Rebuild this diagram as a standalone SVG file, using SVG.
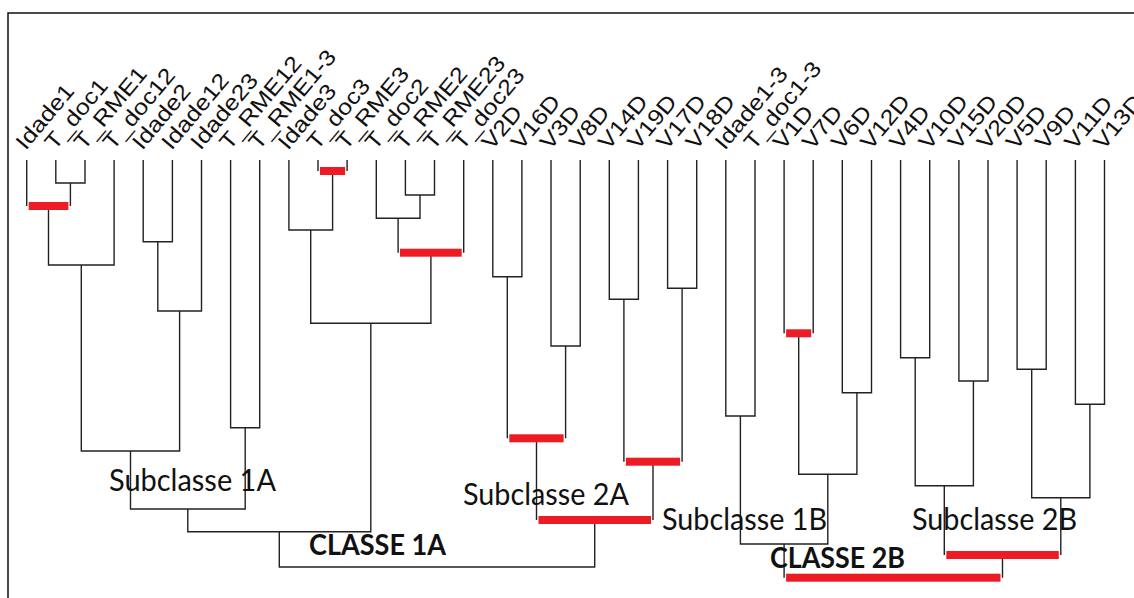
<svg xmlns="http://www.w3.org/2000/svg" width="1134" height="598" viewBox="0 0 1134 598">
<style>
.bg{fill:#ffffff}
.frame{fill:none;stroke:#111;stroke-width:1.5}
.ln{fill:none;stroke:#222;stroke-width:1.4}
.red{fill:#ed1c24}
.lab{font-family:"Liberation Sans",Arial,sans-serif;font-size:22px;fill:#111}
.sub{font-family:Lato,"Open Sans",sans-serif;font-size:30px;fill:#111}
.cls{font-family:Lato,"Open Sans",sans-serif;font-size:28px;font-weight:bold;fill:#111}
</style>
<rect class="bg" x="0" y="0" width="1134" height="598"/>
<path class="frame" d="M8,598V13H1134"/>

<g id="leaves">
<g id="leaf-Idade1"><text class="lab" transform="translate(25.7,151) rotate(-50) scale(1.15,1)">Idade1</text></g>
<g id="leaf-T_doc1"><text class="lab" transform="translate(54.8,151) rotate(-50) scale(1.15,1)">T_doc1</text></g>
<g id="leaf-T_RME1"><text class="lab" transform="translate(84,151) rotate(-50) scale(1.15,1)">T_RME1</text></g>
<g id="leaf-T_doc12"><text class="lab" transform="translate(113.1,151) rotate(-50) scale(1.15,1)">T_doc12</text></g>
<g id="leaf-Idade2"><text class="lab" transform="translate(142.2,151) rotate(-50) scale(1.15,1)">Idade2</text></g>
<g id="leaf-Idade12"><text class="lab" transform="translate(171.4,151) rotate(-50) scale(1.15,1)">Idade12</text></g>
<g id="leaf-Idade23"><text class="lab" transform="translate(200.5,151) rotate(-50) scale(1.15,1)">Idade23</text></g>
<g id="leaf-T_RME12"><text class="lab" transform="translate(229.6,151) rotate(-50) scale(1.15,1)">T_RME12</text></g>
<g id="leaf-T_RME1-3"><text class="lab" transform="translate(258.7,151) rotate(-50) scale(1.15,1)">T_RME1-3</text></g>
<g id="leaf-Idade3"><text class="lab" transform="translate(287.9,151) rotate(-50) scale(1.15,1)">Idade3</text></g>
<g id="leaf-T_doc3"><text class="lab" transform="translate(317,151) rotate(-50) scale(1.15,1)">T_doc3</text></g>
<g id="leaf-T_RME3"><text class="lab" transform="translate(346.1,151) rotate(-50) scale(1.15,1)">T_RME3</text></g>
<g id="leaf-T_doc2"><text class="lab" transform="translate(375.3,151) rotate(-50) scale(1.15,1)">T_doc2</text></g>
<g id="leaf-T_RME2"><text class="lab" transform="translate(404.4,151) rotate(-50) scale(1.15,1)">T_RME2</text></g>
<g id="leaf-T_RME23"><text class="lab" transform="translate(433.5,151) rotate(-50) scale(1.15,1)">T_RME23</text></g>
<g id="leaf-T_doc23"><text class="lab" transform="translate(462.6,151) rotate(-50) scale(1.15,1)">T_doc23</text></g>
<g id="leaf-V2D"><text class="lab" transform="translate(491.8,151) rotate(-50) scale(1.15,1)">V2D</text></g>
<g id="leaf-V16D"><text class="lab" transform="translate(520.9,151) rotate(-50) scale(1.15,1)">V16D</text></g>
<g id="leaf-V3D"><text class="lab" transform="translate(550,151) rotate(-50) scale(1.15,1)">V3D</text></g>
<g id="leaf-V8D"><text class="lab" transform="translate(579.2,151) rotate(-50) scale(1.15,1)">V8D</text></g>
<g id="leaf-V14D"><text class="lab" transform="translate(608.3,151) rotate(-50) scale(1.15,1)">V14D</text></g>
<g id="leaf-V19D"><text class="lab" transform="translate(637.4,151) rotate(-50) scale(1.15,1)">V19D</text></g>
<g id="leaf-V17D"><text class="lab" transform="translate(666.6,151) rotate(-50) scale(1.15,1)">V17D</text></g>
<g id="leaf-V18D"><text class="lab" transform="translate(695.7,151) rotate(-50) scale(1.15,1)">V18D</text></g>
<g id="leaf-Idade1-3"><text class="lab" transform="translate(724.8,151) rotate(-50) scale(1.15,1)">Idade1-3</text></g>
<g id="leaf-T_doc1-3"><text class="lab" transform="translate(754,151) rotate(-50) scale(1.15,1)">T_doc1-3</text></g>
<g id="leaf-V1D"><text class="lab" transform="translate(783.1,151) rotate(-50) scale(1.15,1)">V1D</text></g>
<g id="leaf-V7D"><text class="lab" transform="translate(812.2,151) rotate(-50) scale(1.15,1)">V7D</text></g>
<g id="leaf-V6D"><text class="lab" transform="translate(841.3,151) rotate(-50) scale(1.15,1)">V6D</text></g>
<g id="leaf-V12D"><text class="lab" transform="translate(870.5,151) rotate(-50) scale(1.15,1)">V12D</text></g>
<g id="leaf-V4D"><text class="lab" transform="translate(899.6,151) rotate(-50) scale(1.15,1)">V4D</text></g>
<g id="leaf-V10D"><text class="lab" transform="translate(928.7,151) rotate(-50) scale(1.15,1)">V10D</text></g>
<g id="leaf-V15D"><text class="lab" transform="translate(957.9,151) rotate(-50) scale(1.15,1)">V15D</text></g>
<g id="leaf-V20D"><text class="lab" transform="translate(987,151) rotate(-50) scale(1.15,1)">V20D</text></g>
<g id="leaf-V5D"><text class="lab" transform="translate(1016.1,151) rotate(-50) scale(1.15,1)">V5D</text></g>
<g id="leaf-V9D"><text class="lab" transform="translate(1045.2,151) rotate(-50) scale(1.15,1)">V9D</text></g>
<g id="leaf-V11D"><text class="lab" transform="translate(1074.4,151) rotate(-50) scale(1.15,1)">V11D</text></g>
<g id="leaf-V13D"><text class="lab" transform="translate(1103.5,151) rotate(-50) scale(1.15,1)">V13D</text></g>
</g>

<g id="connectors">
<path class="ln" d="M55.8,160V183H85V160"/>
<path class="ln" d="M26.7,160V206M70.4,183V206"/>
<path class="ln" d="M48.5,206V265H114.1V160"/>
<path class="ln" d="M143.2,160V241.7H172.4V160"/>
<path class="ln" d="M157.8,241.7V311H201.5V160"/>
<path class="ln" d="M81.3,265V451H179.6V311"/>
<path class="ln" d="M230.6,160V427.7H259.7V160"/>
<path class="ln" d="M130.5,451V509H245.2V427.7"/>
<path class="ln" d="M318,160V171M347.1,160V171"/>
<path class="ln" d="M288.9,160V230H332.6V171"/>
<path class="ln" d="M405.4,160V195H434.5V160"/>
<path class="ln" d="M376.3,160V218.3H420V195"/>
<path class="ln" d="M398.1,218.3V252.7M463.7,160V252.7"/>
<path class="ln" d="M310.7,230V323.3H430.9V252.7"/>
<path class="ln" d="M187.8,509V531.7H370.8V323.3"/>
<path class="ln" d="M492.8,160V276.7H521.9V160"/>
<path class="ln" d="M551,160V346H580.2V160"/>
<path class="ln" d="M507.3,276.7V438.3M565.6,346V438.3"/>
<path class="ln" d="M609.3,160V299.3H638.4V160"/>
<path class="ln" d="M667.6,160V288.3H696.7V160"/>
<path class="ln" d="M623.9,299.3V461.7M682.1,288.3V461.7"/>
<path class="ln" d="M536.5,438.3V520M653,461.7V520"/>
<path class="ln" d="M279.3,531.7V567H594.7V520"/>
<path class="ln" d="M725.8,160V416H755V160"/>
<path class="ln" d="M784.1,160V333.3M813.2,160V333.3"/>
<path class="ln" d="M842.3,160V392.7H871.5V160"/>
<path class="ln" d="M798.7,333.3V474.3H856.9V392.7"/>
<path class="ln" d="M740.4,416V544H827.8V474.3"/>
<path class="ln" d="M900.6,160V357.7H929.7V160"/>
<path class="ln" d="M958.9,160V381H988V160"/>
<path class="ln" d="M915.2,357.7V485.7H973.4V381"/>
<path class="ln" d="M1017.1,160V369.3H1046.2V160"/>
<path class="ln" d="M1075.4,160V404.3H1104.5V160"/>
<path class="ln" d="M1031.7,369.3V497.7H1089.9V404.3"/>
<path class="ln" d="M944.3,485.7V555M1060.8,497.7V555"/>
<path class="ln" d="M784.1,544V577.7M1002.5,555V577.7"/>
</g>

<g id="cuts">
<rect class="red" x="28.7" y="202" width="39.7" height="8"/>
<rect class="red" x="320" y="167" width="25.1" height="8"/>
<rect class="red" x="400" y="248.7" width="61.7" height="8"/>
<rect class="red" x="509.3" y="434.3" width="54.3" height="8"/>
<rect class="red" x="625.9" y="457.7" width="54.2" height="8"/>
<rect class="red" x="538.5" y="516" width="112.5" height="8"/>
<rect class="red" x="786.1" y="329.3" width="25.1" height="8"/>
<rect class="red" x="946.3" y="551" width="112.5" height="8"/>
<rect class="red" x="786.1" y="573.7" width="214.4" height="8"/>
</g>

<g id="group-labels">
<text class="sub" x="109" y="491" textLength="167" lengthAdjust="spacingAndGlyphs">Subclasse 1A</text>
<text class="sub" x="463" y="505" textLength="166" lengthAdjust="spacingAndGlyphs">Subclasse 2A</text>
<text class="sub" x="662" y="530" textLength="165" lengthAdjust="spacingAndGlyphs">Subclasse 1B</text>
<text class="sub" x="912" y="530" textLength="165" lengthAdjust="spacingAndGlyphs">Subclasse 2B</text>
<text class="cls" x="309" y="555" textLength="137" lengthAdjust="spacingAndGlyphs">CLASSE 1A</text>
<text class="cls" x="770" y="568" textLength="135" lengthAdjust="spacingAndGlyphs">CLASSE 2B</text>
</g>
</svg>
